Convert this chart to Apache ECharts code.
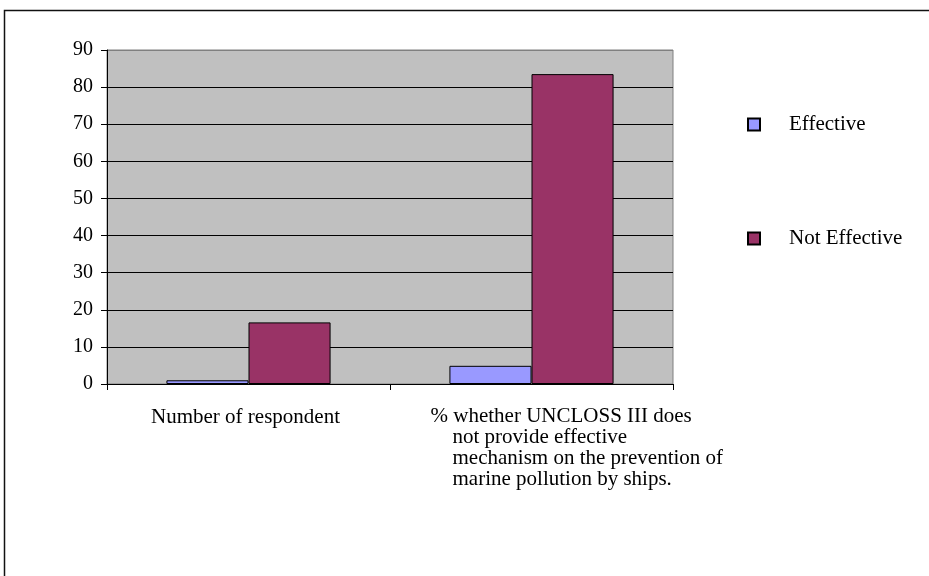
<!DOCTYPE html>
<html>
<head>
<meta charset="utf-8">
<script src="https://cdn.jsdelivr.net/npm/echarts@6/dist/echarts.min.js"></script>
<style>html,body{margin:0;padding:0;background:#fff;}#c{width:929px;height:576px;}</style>
</head>
<body>
<div id="c"></div>
<script>
var categories = ['Number of respondent', '% whether UNCLOSS III does\nnot provide effective\nmechanism on the prevention of\nmarine pollution by ships.'];
var seriesNames = ['Effective', 'Not Effective'];
var effective = [1, 4.9];
var notEffective = [16.6, 83.5];
var yTicks = [0, 10, 20, 30, 40, 50, 60, 70, 80, 90];

var FONT = '"Liberation Serif", "Times New Roman", serif';
var chart = echarts.init(document.getElementById('c'), null, {renderer: 'canvas'});
var splitColors = yTicks.map(function (v, i) { return i === yTicks.length - 1 ? '#808080' : '#000000'; });

chart.setOption({
  animation: false,
  backgroundColor: '#ffffff',
  textStyle: {fontFamily: FONT},
  grid: {left: 107, right: 256, top: 50, bottom: 192, show: true, backgroundColor: '#c0c0c0', borderColor: '#808080', borderWidth: 1},
  legend: {
    orient: 'vertical', left: 742, top: 109, itemWidth: 12, itemHeight: 12, itemGap: 93,
    icon: 'rect',
    textStyle: {fontFamily: FONT, fontSize: 21, color: '#000', padding: [0, 0, 0, 24]},
    data: seriesNames
  },
  xAxis: {
    type: 'category', data: categories,
    axisLine: {lineStyle: {color: '#000', width: 1}},
    axisTick: {show: true, length: 6, lineStyle: {color: '#000'}},
    axisLabel: {show: false},
    splitLine: {show: false}
  },
  yAxis: {
    type: 'value', min: 0, max: 90, interval: 10,
    axisLine: {show: true, lineStyle: {color: '#000', width: 1}},
    axisTick: {show: true, length: 6, lineStyle: {color: '#000'}},
    axisLabel: {fontFamily: FONT, fontSize: 20, color: '#000', margin: 14,
      formatter: function (v) { return yTicks.indexOf(v) >= 0 ? String(v) : ''; }},
    splitLine: {show: true, lineStyle: {color: splitColors, width: 1}}
  },
  series: [
    {name: seriesNames[0], type: 'bar', data: effective, barGap: '0%', barCategoryGap: '42%',
     itemStyle: {color: '#9999FF', borderColor: '#000', borderWidth: 1}},
    {name: seriesNames[1], type: 'bar', data: notEffective, barGap: '0%', barCategoryGap: '42%',
     itemStyle: {color: '#993366', borderColor: '#000', borderWidth: 1}}
  ]
});

// category labels placed from the axis scale
var axisY = chart.convertToPixel({yAxisIndex: 0}, 0);
var gfx = [];
gfx.push({type: 'rect', shape: {x: 4.5, y: 10.5, width: 1000, height: 1000}, style: {fill: 'none', stroke: '#111', lineWidth: 1.5}, silent: true, z: 100});
categories.forEach(function (cat, i) {
  var cx = chart.convertToPixel({xAxisIndex: 0}, i);
  var lines = cat.split('\n');
  if (lines.length === 1) {
    gfx.push({type: 'text', x: cx - 3, y: axisY + 33, style: {text: lines[0], font: '21px ' + FONT, fill: '#000', textAlign: 'center', textVerticalAlign: 'middle'}, z: 100});
  } else {
    lines.forEach(function (ln, k) {
      gfx.push({type: 'text', x: cx + (k === 0 ? -101 : -79), y: axisY + 32 + k * 21, style: {text: ln, font: '21px ' + FONT, fill: '#000', textAlign: 'left', textVerticalAlign: 'middle'}, z: 100});
    });
  }
});
chart.setOption({graphic: gfx});
</script>
</body>
</html>
